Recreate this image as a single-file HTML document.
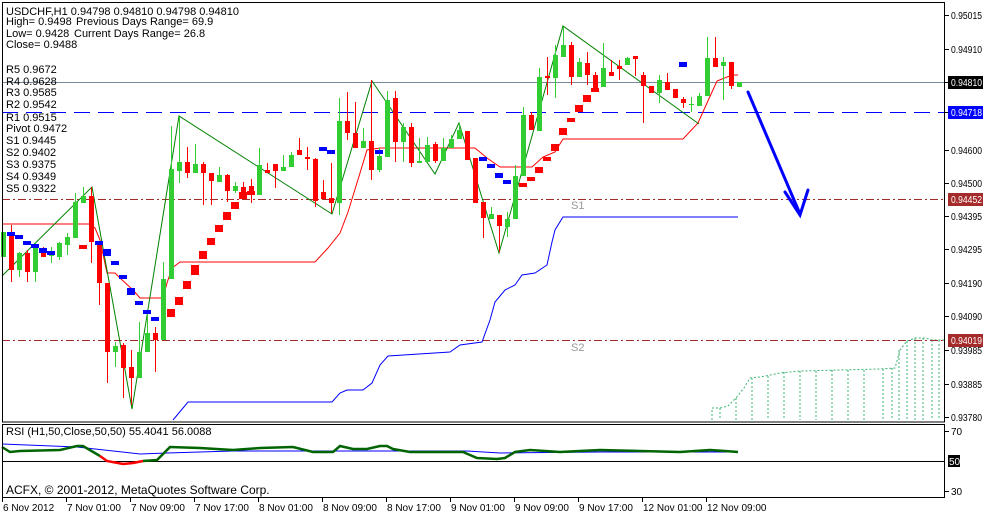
<!DOCTYPE html>
<html><head><meta charset="utf-8"><style>
html,body{margin:0;padding:0;background:#fff;}
svg{display:block;font-family:"Liberation Sans",sans-serif;}
</style></head><body>
<svg width="983" height="515" viewBox="0 0 983 515" xmlns="http://www.w3.org/2000/svg">
<rect width="983" height="515" fill="#fff"/>
<!-- cloud -->
<g stroke="#3cb371" stroke-width="1" stroke-dasharray="2,2" fill="none">
<path d="M712 420 L712 408 L720 408 L728 406 L736 398 L744 388 L750 378 L760 377 L780 373 L800 371 L880 369 L895 368 L900 350 L907 341 L915 338 L925 338 L932 340 L944 340"/>
<path d="M720 408V420M736 398V420M752 378V420M768 376V420M784 372V420M800 371V420M816 371V420M832 370V420M848 370V420M864 370V420M883 369V420M892 368V420M899 350V420M907 341V420M915 338V420M923 338V420M932 340V420M939 340V420"/>
</g>
<!-- horizontal lines -->
<line x1="2" y1="82.5" x2="945" y2="82.5" stroke="#778899"/>
<line x1="2" y1="112.5" x2="945" y2="112.5" stroke="#0000ff" stroke-dasharray="16,8"/>
<line x1="2" y1="199.5" x2="945" y2="199.5" stroke="#a52a2a" stroke-dasharray="8,3,2,3"/>
<line x1="2" y1="340.5" x2="945" y2="340.5" stroke="#a52a2a" stroke-dasharray="8,3,2,3"/>
<text x="571" y="209" font-size="11" fill="#999">S1</text>
<text x="571" y="351" font-size="11" fill="#999">S2</text>
<!-- blue S line -->
<polyline fill="none" stroke="#0000ff" stroke-width="1" points="173,420 188,402 332,402 340,393 347,390 363,390 372,383 380,365 388,356 450,352 460,345 482,342 490,320 495,302 505,290 515,285 522,275 535,273 547,265 552,242 555,230 563,217 738,217"/>
<!-- red trailing line -->
<polyline fill="none" stroke="#ff0000" stroke-width="1" points="2,224 89,224 95,228 100,240 107,273 115,273 120,278 133,290 140,298 163,298 167,283 172,268 180,262 315,262 328,248 340,233 348,212 360,173 367,150 380,148 475,148 487,158 500,167 532,167 543,157 555,152 563,139 683,139 698,123 707,103 717,81 732,75 738,75"/>
<!-- zigzag -->
<polyline fill="none" stroke="#008000" stroke-width="1" points="2,276 92,187 132,409 179,116 332,214 372,81 435,174 459,123 499,253 563,26 699,124"/>
<!-- candles wicks -->
<path stroke="#32cd32" stroke-width="1" fill="none" d="M3.5 232V257M19.5 252V277M35.5 242V282M51.5 247V263M59.5 242V260M67.5 233V255M75.5 193V238M83.5 187V203M115.5 342V367M139.5 322V378M147.5 313V352M163.5 262V340M171.5 126V279M179.5 117V183M195.5 144V173M219.5 167V182M235.5 182V193M259.5 148V195M283.5 155V171M291.5 152V167M339.5 98V215M363.5 128V148M379.5 148V172M387.5 91V157M403.5 123V162M419.5 138V163M427.5 137V162M443.5 138V161M451.5 135V148M459.5 123V139M491.5 207V219M507.5 212V237M515.5 165V219M523.5 107V176M539.5 68V131M555.5 45V98M563.5 27V57M579.5 58V77M603.5 43V87M627.5 57V65M659.5 75V103M691.5 97V112M699.5 93V106M707.5 37V96M723.5 57V100M739.5 82V87"/>
<path stroke="#ff0000" stroke-width="1" fill="none" d="M11.5 225V282M27.5 250V282M43.5 247V257M91.5 187V263M99.5 242V305M107.5 283V383M123.5 343V398M131.5 350V405M155.5 327V372M187.5 147V178M203.5 162V205M211.5 173V205M227.5 174V202M243.5 182V198M251.5 179V203M267.5 163V173M275.5 164V188M299.5 138V155M307.5 147V170M315.5 158V207M323.5 180V199M331.5 163V213M347.5 92V140M355.5 102V148M371.5 80V180M395.5 91V162M411.5 123V167M435.5 142V163M467.5 131V160M475.5 158V203M483.5 202V238M499.5 215V252M531.5 112V130M547.5 57V95M571.5 42V85M587.5 52V85M595.5 72V92M611.5 60V76M619.5 60V80M635.5 56V76M643.5 72V123M651.5 86V93M667.5 73V90M675.5 89V98M683.5 97V108M715.5 37V67M731.5 62V89"/>
<g fill="#32cd32">
<rect x="1" y="232" width="5" height="25"/><rect x="17" y="253" width="5" height="17"/><rect x="33" y="245" width="5" height="27"/><rect x="49" y="253" width="5" height="3"/><rect x="57" y="243" width="5" height="14"/><rect x="65" y="237" width="5" height="8"/><rect x="73" y="202" width="5" height="36"/><rect x="81" y="196" width="5" height="7"/><rect x="113" y="346" width="5" height="6"/><rect x="137" y="352" width="5" height="26"/><rect x="145" y="333" width="5" height="19"/><rect x="161" y="279" width="5" height="61"/><rect x="169" y="169" width="5" height="110"/><rect x="177" y="162" width="5" height="9"/><rect x="193" y="164" width="5" height="9"/><rect x="217" y="175" width="5" height="7"/><rect x="233" y="186" width="5" height="5"/><rect x="257" y="165" width="5" height="30"/><rect x="281" y="167" width="5" height="4"/><rect x="289" y="155" width="5" height="12"/><rect x="337" y="121" width="5" height="82"/><rect x="361" y="141" width="5" height="7"/><rect x="377" y="156" width="5" height="14"/><rect x="385" y="100" width="5" height="57"/><rect x="401" y="127" width="5" height="15"/><rect x="417" y="161" width="5" height="2"/><rect x="425" y="145" width="5" height="17"/><rect x="441" y="148" width="5" height="13"/><rect x="449" y="139" width="5" height="9"/><rect x="457" y="130" width="5" height="9"/><rect x="489" y="214" width="5" height="5"/><rect x="505" y="219" width="5" height="8"/><rect x="513" y="176" width="5" height="43"/><rect x="521" y="115" width="5" height="61"/><rect x="537" y="77" width="5" height="54"/><rect x="553" y="55" width="5" height="23"/><rect x="561" y="45" width="5" height="12"/><rect x="577" y="62" width="5" height="15"/><rect x="601" y="68" width="5" height="19"/><rect x="625" y="58" width="5" height="7"/><rect x="657" y="80" width="5" height="13"/><rect x="689" y="104" width="5" height="1"/><rect x="697" y="96" width="5" height="10"/><rect x="705" y="58" width="5" height="38"/><rect x="721" y="62" width="5" height="4"/><rect x="737" y="82" width="5" height="5"/>
</g>
<g fill="#ff0000">
<rect x="9" y="233" width="5" height="37"/><rect x="25" y="253" width="5" height="19"/><rect x="41" y="250" width="5" height="7"/><rect x="89" y="196" width="5" height="46"/><rect x="97" y="242" width="5" height="41"/><rect x="105" y="283" width="5" height="69"/><rect x="121" y="345" width="5" height="23"/><rect x="129" y="367" width="5" height="11"/><rect x="153" y="333" width="5" height="7"/><rect x="185" y="162" width="5" height="11"/><rect x="201" y="164" width="5" height="9"/><rect x="209" y="173" width="5" height="8"/><rect x="225" y="175" width="5" height="16"/><rect x="241" y="187" width="5" height="11"/><rect x="249" y="186" width="5" height="5"/><rect x="265" y="170" width="5" height="3"/><rect x="273" y="164" width="5" height="7"/><rect x="297" y="150" width="5" height="5"/><rect x="305" y="157" width="5" height="2"/><rect x="313" y="159" width="5" height="42"/><rect x="321" y="192" width="5" height="7"/><rect x="329" y="198" width="5" height="5"/><rect x="345" y="121" width="5" height="12"/><rect x="353" y="133" width="5" height="15"/><rect x="369" y="141" width="5" height="29"/><rect x="393" y="98" width="5" height="44"/><rect x="409" y="127" width="5" height="36"/><rect x="433" y="144" width="5" height="17"/><rect x="465" y="131" width="5" height="29"/><rect x="473" y="158" width="5" height="45"/><rect x="481" y="202" width="5" height="16"/><rect x="497" y="215" width="5" height="11"/><rect x="529" y="115" width="5" height="15"/><rect x="545" y="76" width="5" height="2"/><rect x="569" y="45" width="5" height="32"/><rect x="585" y="63" width="5" height="12"/><rect x="593" y="75" width="5" height="13"/><rect x="609" y="72" width="5" height="4"/><rect x="617" y="66" width="5" height="3"/><rect x="633" y="56" width="5" height="3"/><rect x="641" y="75" width="5" height="11"/><rect x="649" y="86" width="5" height="7"/><rect x="665" y="82" width="5" height="8"/><rect x="673" y="89" width="5" height="9"/><rect x="681" y="99" width="5" height="4"/><rect x="713" y="58" width="5" height="9"/><rect x="729" y="62" width="5" height="24"/>
</g>
<!-- trend boxes blue -->
<g fill="#0000ff">
<rect x="7" y="232" width="8" height="4"/><rect x="15" y="235" width="8" height="4"/><rect x="23" y="241" width="8" height="4"/><rect x="31" y="244" width="8" height="4"/><rect x="39" y="248" width="8" height="5"/><rect x="47" y="251" width="8" height="4"/><rect x="95" y="241" width="8" height="4"/><rect x="103" y="249" width="8" height="7"/><rect x="111" y="261" width="8" height="4"/><rect x="119" y="275" width="8" height="4"/><rect x="127" y="288" width="8" height="7"/><rect x="135" y="301" width="8" height="4"/><rect x="143" y="310" width="8" height="4"/><rect x="151" y="317" width="8" height="4"/><rect x="319" y="147" width="8" height="4"/><rect x="327" y="150" width="8" height="4"/><rect x="375" y="150" width="8" height="4"/><rect x="479" y="157" width="8" height="4"/><rect x="487" y="164" width="8" height="4"/><rect x="495" y="173" width="8" height="5"/><rect x="503" y="180" width="8" height="4"/><rect x="679" y="62" width="8" height="5"/>
</g>
<g fill="#ff0000">
<rect x="79" y="245" width="8" height="4"/><rect x="167" y="309" width="8" height="8"/><rect x="175" y="297" width="8" height="8"/><rect x="183" y="281" width="8" height="8"/><rect x="191" y="265" width="8" height="10"/><rect x="199" y="251" width="8" height="8"/><rect x="207" y="238" width="8" height="7"/><rect x="215" y="225" width="8" height="7"/><rect x="223" y="212" width="8" height="8"/><rect x="231" y="202" width="8" height="7"/><rect x="239" y="192" width="8" height="7"/><rect x="247" y="191" width="8" height="4"/><rect x="519" y="183" width="8" height="4"/><rect x="527" y="177" width="8" height="4"/><rect x="535" y="167" width="8" height="6"/><rect x="543" y="157" width="8" height="4"/><rect x="551" y="144" width="8" height="7"/><rect x="559" y="128" width="8" height="7"/><rect x="567" y="118" width="8" height="4"/><rect x="575" y="105" width="8" height="7"/><rect x="583" y="95" width="8" height="7"/><rect x="591" y="88" width="8" height="4"/>
</g>
<!-- arrow -->
<g stroke="#0000ff" stroke-width="3" fill="none" stroke-linecap="round">
<line x1="748" y1="92" x2="800" y2="214"/>
<polyline points="785,192 800,215 808,190"/>
</g>
<!-- info text -->
<g font-size="11" fill="#000">
<text x="6" y="15">USDCHF,H1  0.94798 0.94810 0.94798 0.94810</text>
<text x="6" y="25">High= 0.9498</text><text x="76" y="25">Previous Days Range= 69.9</text>
<text x="6" y="37">Low= 0.9428</text><text x="74" y="37">Current Days Range= 26.8</text>
<text x="6" y="48">Close= 0.9488</text>
<text x="6" y="73">R5 0.9672</text><text x="6" y="85">R4 0.9628</text><text x="6" y="96">R3 0.9585</text><text x="6" y="108">R2 0.9542</text><text x="6" y="121">R1 0.9515</text><text x="6" y="132">Pivot 0.9472</text><text x="6" y="144">S1 0.9445</text><text x="6" y="156">S2 0.9402</text><text x="6" y="168">S3 0.9375</text><text x="6" y="180">S4 0.9349</text><text x="6" y="192">S5 0.9322</text>
</g>
<!-- RSI panel -->
<line x1="2" y1="461.5" x2="945" y2="461.5" stroke="#000"/>
<polyline fill="none" stroke="#0000ff" stroke-width="1" points="2,444 77,447 140,454 167,453 233,451 333,451 467,451 500,453 600,452 738,452"/>
<polyline fill="none" stroke="#006400" stroke-width="2.5" points="2,447 10,452 20,451 60,450 77,446 83,446 100,456"/>
<polyline fill="none" stroke="#ff0000" stroke-width="2.5" points="100,456 107,461 123,464 133,463 143,461"/>
<polyline fill="none" stroke="#006400" stroke-width="2.5" points="143,461 157,460 170,447 200,448 233,450 260,448 293,447 313,452 333,452 340,446 353,449 367,449 380,446 387,446 393,449 410,452 450,452 463,452 477,458 497,459 505,458 515,452 530,450 560,452 600,450 640,451 680,452 710,450 725,451 738,452"/>
<text x="6" y="435" font-size="11" fill="#000">RSI (H1,50,Close,50,50) 55.4041 56.0088</text>
<text x="6" y="494" font-size="12" fill="#000">ACFX, © 2001-2012, MetaQuotes Software Corp.</text>
<!-- frames -->
<rect x="2.5" y="2.5" width="942" height="419.5" fill="none" stroke="#000"/>
<rect x="2.5" y="424.5" width="942" height="73" fill="none" stroke="#000"/>
<!-- right axis -->
<g font-size="10" fill="#000">
<path stroke="#000" d="M945 15.5h4M945 49.5h4M945 82.5h4M945 112.5h4M945 150.5h4M945 183.5h4M945 216.5h4M945 249.5h4M945 283.5h4M945 316.5h4M945 350.5h4M945 384.5h4M945 417.5h4M945 431.5h4M945 491.5h4"/>
<text x="951" y="19" textLength="31" lengthAdjust="spacingAndGlyphs">0.95015</text><text x="951" y="53" textLength="31" lengthAdjust="spacingAndGlyphs">0.94910</text>
<text x="951" y="154" textLength="31" lengthAdjust="spacingAndGlyphs">0.94600</text><text x="951" y="187" textLength="31" lengthAdjust="spacingAndGlyphs">0.94500</text><text x="951" y="220" textLength="31" lengthAdjust="spacingAndGlyphs">0.94395</text><text x="951" y="253" textLength="31" lengthAdjust="spacingAndGlyphs">0.94295</text><text x="951" y="287" textLength="31" lengthAdjust="spacingAndGlyphs">0.94190</text><text x="951" y="320" textLength="31" lengthAdjust="spacingAndGlyphs">0.94090</text><text x="951" y="354" textLength="31" lengthAdjust="spacingAndGlyphs">0.93985</text><text x="951" y="388" textLength="31" lengthAdjust="spacingAndGlyphs">0.93885</text><text x="951" y="421" textLength="31" lengthAdjust="spacingAndGlyphs">0.93780</text>
<rect x="948" y="76" width="35" height="13" fill="#000"/><text x="951" y="86" fill="#fff" textLength="31" lengthAdjust="spacingAndGlyphs">0.94810</text>
<rect x="948" y="106" width="35" height="13" fill="#0000ff"/><text x="951" y="116" fill="#fff" textLength="31" lengthAdjust="spacingAndGlyphs">0.94718</text>
<rect x="948" y="193" width="35" height="13" fill="#a52a2a"/><text x="951" y="203" fill="#fff" textLength="31" lengthAdjust="spacingAndGlyphs">0.94452</text>
<rect x="948" y="334" width="35" height="13" fill="#a52a2a"/><text x="951" y="344" fill="#fff" textLength="31" lengthAdjust="spacingAndGlyphs">0.94019</text>
<text x="951" y="435">70</text><text x="951" y="495">30</text>
<rect x="948" y="455" width="12" height="12" fill="#000"/><text x="949" y="465" fill="#fff">50</text>
</g>
<!-- x axis -->
<path stroke="#000" d="M2.5 498v4M66.5 498v4M130.5 498v4M194.5 498v4M258.5 498v4M322.5 498v4M386.5 498v4M450.5 498v4M514.5 498v4M578.5 498v4M642.5 498v4M706.5 498v4"/>
<g font-size="10" fill="#000">
<text x="3" y="511">6 Nov 2012</text><text x="67" y="511">7 Nov 01:00</text><text x="131" y="511">7 Nov 09:00</text><text x="195" y="511">7 Nov 17:00</text><text x="259" y="511">8 Nov 01:00</text><text x="323" y="511">8 Nov 09:00</text><text x="387" y="511">8 Nov 17:00</text><text x="451" y="511">9 Nov 01:00</text><text x="515" y="511">9 Nov 09:00</text><text x="579" y="511">9 Nov 17:00</text><text x="643" y="511">12 Nov 01:00</text><text x="707" y="511">12 Nov 09:00</text>
</g>
</svg>
</body></html>
